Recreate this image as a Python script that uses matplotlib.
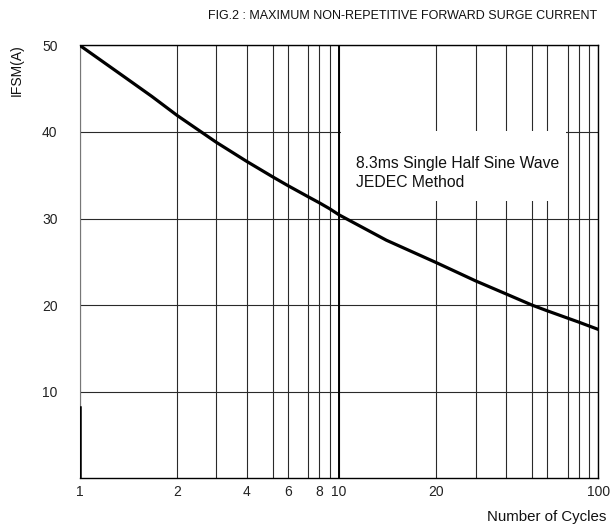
import numpy as np
import matplotlib
matplotlib.use("Agg")
import matplotlib.pyplot as plt
from matplotlib.patches import Rectangle

# ---- data ----
cycles = [1, 1.38, 1.67, 2, 3, 4, 5, 6, 7, 8, 9, 10, 14, 20, 30, 40, 50, 60, 70, 80, 90, 100]
ifsm = [50, 46.3, 44.1, 41.9, 38.8, 36.6, 34.8, 33.8, 32.5, 31.82, 31.13, 30.43,
        27.5, 24.9, 22.8, 21.3, 20.0, 19.35, 18.5, 18.05, 17.6, 17.2]
x_major = [1, 2, 4, 6, 8, 10, 20, 100]
x_major_labels = ["1", "2", "4", "6", "8", "10", "20", "100"]
x_minor = [3, 5, 7, 9, 30, 40, 50, 60, 70, 80, 90]
y_ticks = [10, 20, 30, 40, 50]
title = "FIG.2 : MAXIMUM NON-REPETITIVE FORWARD SURGE CURRENT"
ylabel = "IFSM(A)"
xlabel = "Number of Cycles"
note_lines = ["8.3ms Single Half Sine Wave", "JEDEC Method"]

# ---- decade scale as printed on the original log paper ----
_log_knots = np.log10([1, 2, 3, 4, 5, 6, 7, 8, 9, 10])
_pos_knots = np.array([0, .376, .527, .644, .745, .803, .882, .924, .964, 1.0])

def fwd(x):
    x = np.asarray(x, dtype=float)
    with np.errstate(divide="ignore", invalid="ignore"):
        l = np.log10(np.where(x > 0, x, np.nan))
    d = np.floor(l)
    return d + np.interp(l - d, _log_knots, _pos_knots)

def inv(p):
    p = np.asarray(p, dtype=float)
    d = np.floor(p)
    return 10 ** (d + np.interp(p - d, _pos_knots, _log_knots))

plt.rcParams["font.family"] = ["Liberation Sans", "DejaVu Sans"]

fig = plt.figure(figsize=(6.11, 5.26), dpi=100)
ax = fig.add_axes([0.1304, 0.0905, 0.8488, 0.8234])
ax.set_xscale("function", functions=(fwd, inv))
ax.set_xlim(1, 100)
ax.set_ylim(0, 50)

ax.set_xticks(x_major)
ax.set_xticklabels(x_major_labels)
ax.set_xticks(x_minor, minor=True)
ax.set_xticklabels([], minor=True)
ax.set_yticks(y_ticks)
ax.tick_params(axis="both", which="both", length=0, labelsize=10, colors="#222222")
ax.tick_params(axis="x", pad=5)
ax.tick_params(axis="y", pad=16)

ax.grid(True, which="both", color="#2a2a2a", linewidth=0.8)
ax.axvline(10, color="black", linewidth=1.4, zorder=1.6)

for s in ["top", "right", "bottom"]:
    ax.spines[s].set_color("black")
    ax.spines[s].set_linewidth(1.0)
ax.spines["left"].set_color("#777777")
ax.spines["left"].set_linewidth(0.8)
ax.axvline(1, ymax=0.1655, color="black", linewidth=1.8, zorder=3)

ax.plot(cycles, ifsm, color="black", linewidth=2.3, zorder=3,
        solid_capstyle="round")

ax.add_patch(Rectangle((0.504, 0.6405), 0.434, 0.161, transform=ax.transAxes,
                       facecolor="white", edgecolor="none", zorder=1.8))
ax.text(0.533, 0.7167, note_lines[0], transform=ax.transAxes, fontsize=11.3,
        va="baseline", ha="left", color="#111111", zorder=4)
ax.text(0.533, 0.6735, note_lines[1], transform=ax.transAxes, fontsize=11.3,
        va="baseline", ha="left", color="#111111", zorder=4)

fig.text(0.977, 0.970, title, ha="right", va="center", fontsize=9, color="#111111")
fig.text(0.993, 0.017, xlabel, ha="right", va="center", fontsize=10.8, color="#111111")
ax.set_ylabel(ylabel, fontsize=10, color="#111111")
ax.yaxis.set_label_coords(-0.108, 0.942)

fig.savefig("out.png", dpi=100)
